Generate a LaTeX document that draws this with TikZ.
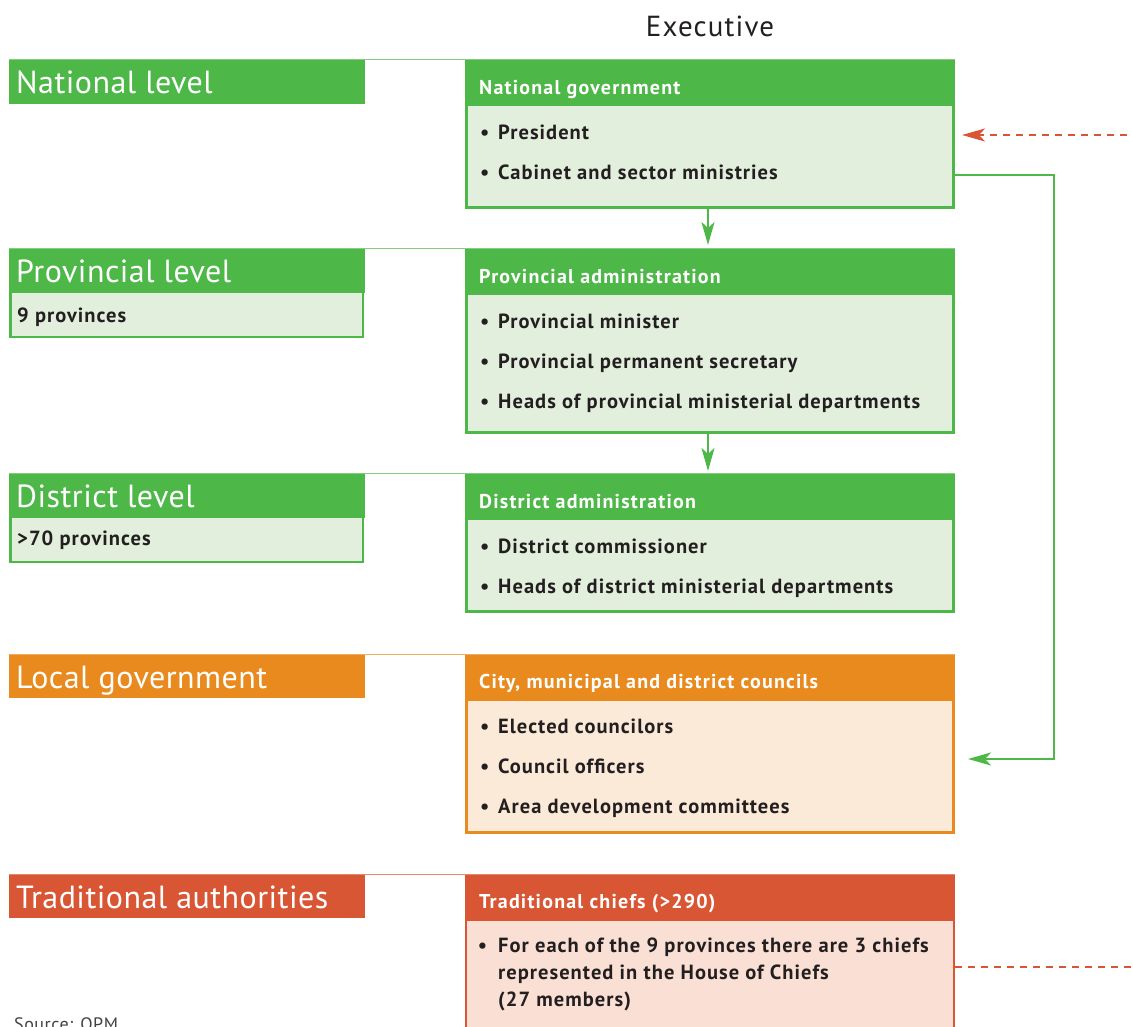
\documentclass[tikz,border=0pt]{standalone}
\usepackage{fontspec}
\setmainfont{PT Sans}
\usetikzlibrary{arrows.meta}
\definecolor{gr}{HTML}{4DB848}
\definecolor{grl}{HTML}{E2EFDC}
\definecolor{orr}{HTML}{E98A1E}
\definecolor{orl}{HTML}{FCEAD8}
\definecolor{rd}{HTML}{D95634}
\definecolor{rdl}{HTML}{FAE0D4}
\definecolor{txt}{HTML}{231F20}
\newcommand\bitem[1]{\makebox[18pt][l]{\textbullet}#1}
\tikzset{
  panel/.style={rectangle, anchor=north west, inner sep=0pt, outer sep=0pt, minimum width=490pt, fill=#1},
  inbody/.style={rectangle, anchor=north west, inner sep=0pt, outer sep=0pt, minimum width=484pt, fill=#1},
  lvl/.style={rectangle, anchor=north west, inner sep=0pt, outer sep=0pt, minimum width=356pt, minimum height=44pt, fill=#1},
  hdrtxt/.style={anchor=base west, inner sep=0pt, text=white, font=\fontsize{20}{23}\selectfont\bfseries\addfontfeature{LetterSpace=6}},
  itemtxt/.style={anchor=base west, inner sep=0pt, text=txt, font=\fontsize{20.5}{27}\selectfont\bfseries\addfontfeature{LetterSpace=5}},
  lvltxt/.style={anchor=base west, inner sep=0pt, text=white, font=\fontsize{32}{34}\selectfont\addfontfeature{LetterSpace=1.5}},
  topline/.style={draw=#1!70, line width=1pt},
  gcon/.style={draw=gr, line width=2.5pt, -{Stealth[length=23pt,width=13pt,inset=6pt]}},
  rcon/.style={draw=rd, line width=2.2pt, dash pattern=on 7pt off 6pt, -{Stealth[length=23pt,width=13pt,inset=6pt]}},
  rdash/.style={draw=rd, line width=2pt, dash pattern=on 7pt off 6pt},
}
\begin{document}
\begin{tikzpicture}[x=1pt,y=-1pt]
\useasboundingbox (0,0) rectangle (1133,1027);
\clip (0,0) rectangle (1133,1027);

% title
\node[anchor=base, inner sep=0pt, text=txt, font=\fontsize{29}{32}\selectfont\addfontfeature{LetterSpace=4}] (exec) at (710,37) {Executive};

% ---------- National ----------
\node[lvl=gr] (natlbl) at (9,60) {};
\node[lvltxt] (natlbltxt) at (16,93.3) {National level};
\node[panel=gr, minimum height=149pt] (nat) at (465,60) {};
\node[inbody=grl, minimum height=100pt] (natbody) at (468,106) {};
\draw[topline=gr] ([yshift=0.5pt]natlbl.north west) -- ([yshift=0.5pt]nat.north east);
\node[hdrtxt] (nathdr) at (479,94.5) {National government};
\node[itemtxt] (nat1) at (480,140) {\bitem{President}};
\node[itemtxt] (nat2) at (480,180) {\bitem{Cabinet and sector ministries}};

% ---------- Provincial ----------
\node[lvl=gr] (provlbl) at (9,249) {};
\node[lvltxt] (provlbltxt) at (16,282.3) {Provincial level};
\node[lvl=gr, minimum width=355pt, minimum height=45pt] (provsub) at (9,293) {};
\node[lvl=grl, minimum width=350pt, minimum height=42.5pt] (provsubin) at (11.5,293) {};
\node[itemtxt] (provsubtxt) at (17,322) {9 provinces};
\node[panel=gr, minimum height=185pt] (prov) at (465,249) {};
\node[inbody=grl, minimum height=136pt] (provbody) at (468,295) {};
\draw[topline=gr] ([yshift=0.5pt]provlbl.north west) -- ([yshift=0.5pt]prov.north east);
\node[hdrtxt] (provhdr) at (479,283.5) {Provincial administration};
\node[itemtxt] (prov1) at (480,328) {\bitem{Provincial minister}};
\node[itemtxt] (prov2) at (480,368) {\bitem{Provincial permanent secretary}};
\node[itemtxt] (prov3) at (480,408) {\bitem{Heads of provincial ministerial departments}};

% ---------- District ----------
\node[lvl=gr] (distlbl) at (9,474) {};
\node[lvltxt] (distlbltxt) at (16,507.3) {District level};
\node[lvl=gr, minimum width=355pt, minimum height=45pt] (distsub) at (9,518) {};
\node[lvl=grl, minimum width=350pt, minimum height=42.5pt] (distsubin) at (11.5,518) {};
\node[itemtxt] (distsubtxt) at (17,545.5) {>70 provinces};
\node[panel=gr, minimum height=139pt] (dist) at (465,474) {};
\node[inbody=grl, minimum height=90pt] (distbody) at (468,520) {};
\draw[topline=gr] ([yshift=0.5pt]distlbl.north west) -- ([yshift=0.5pt]dist.north east);
\node[hdrtxt] (disthdr) at (479,508.5) {District administration};
\node[itemtxt] (dist1) at (480,553) {\bitem{District commissioner}};
\node[itemtxt] (dist2) at (480,593) {\bitem{Heads of district ministerial departments}};

% ---------- Local ----------
\node[lvl=orr, minimum height=43pt] (loclbl) at (9,655) {};
\node[lvltxt] (loclbltxt) at (16,688) {Local government};
\node[panel=orr, minimum height=179pt] (loc) at (465,655) {};
\node[inbody=orl, minimum height=130pt] (locbody) at (468,701) {};
\draw[topline=orr] ([yshift=0.5pt]loclbl.north west) -- ([yshift=0.5pt]loc.north east);
\node[hdrtxt] (lochdr) at (479,688.5) {City, municipal and district councils};
\node[itemtxt] (loc1) at (480,733) {\bitem{Elected councilors}};
\node[itemtxt] (loc2) at (480,773) {\bitem{Council officers}};
\node[itemtxt] (loc3) at (480,813) {\bitem{Area development committees}};

% ---------- Traditional ----------
\node[lvl=rd, minimum height=43pt] (tradlbl) at (9,875) {};
\node[lvltxt] (tradlbltxt) at (16,908) {Traditional authorities};
\node[panel=rd, minimum height=175pt] (trad) at (465,875) {};
\node[inbody=rdl, minimum width=486pt, minimum height=130pt] (tradbody) at (467,921) {};
\draw[topline=rd] ([yshift=0.5pt]tradlbl.north west) -- ([yshift=0.5pt]trad.north east);
\node[hdrtxt] (tradhdr) at (479,908.5) {Traditional chiefs (>290)};
\node[itemtxt, align=left, anchor=north west] (trad1) at (498,938) {\llap{\textbullet\hspace{11pt}}For each of the 9 provinces there are 3 chiefs\\represented in the House of Chiefs\\(27 members)};

% source
\node[anchor=base west, inner sep=0pt, text=txt!85, font=\fontsize{18}{20}\selectfont\addfontfeature{LetterSpace=3}] (src) at (14,1030) {Source: OPM};

% ---------- connectors ----------
\draw[gcon, shorten >=4pt] (nat.south -| 708,0) -- (prov.north -| 708,0);
\draw[gcon, shorten >=3pt] (prov.south -| 708,0) -- (dist.north -| 708,0);
\draw[gcon] (nat.east |- 0,175) -- (1054,175) |- ([xshift=13pt]loc.east |- 0,759);
\coordinate (redin) at (1140,135);
\coordinate (redout) at (1140,967);
\draw[rcon] (redin) -- ([xshift=7pt]nat.east |- 0,135);
\draw[rdash] (trad.east |- 0,967) -- (redout);
\end{tikzpicture}
\end{document}
